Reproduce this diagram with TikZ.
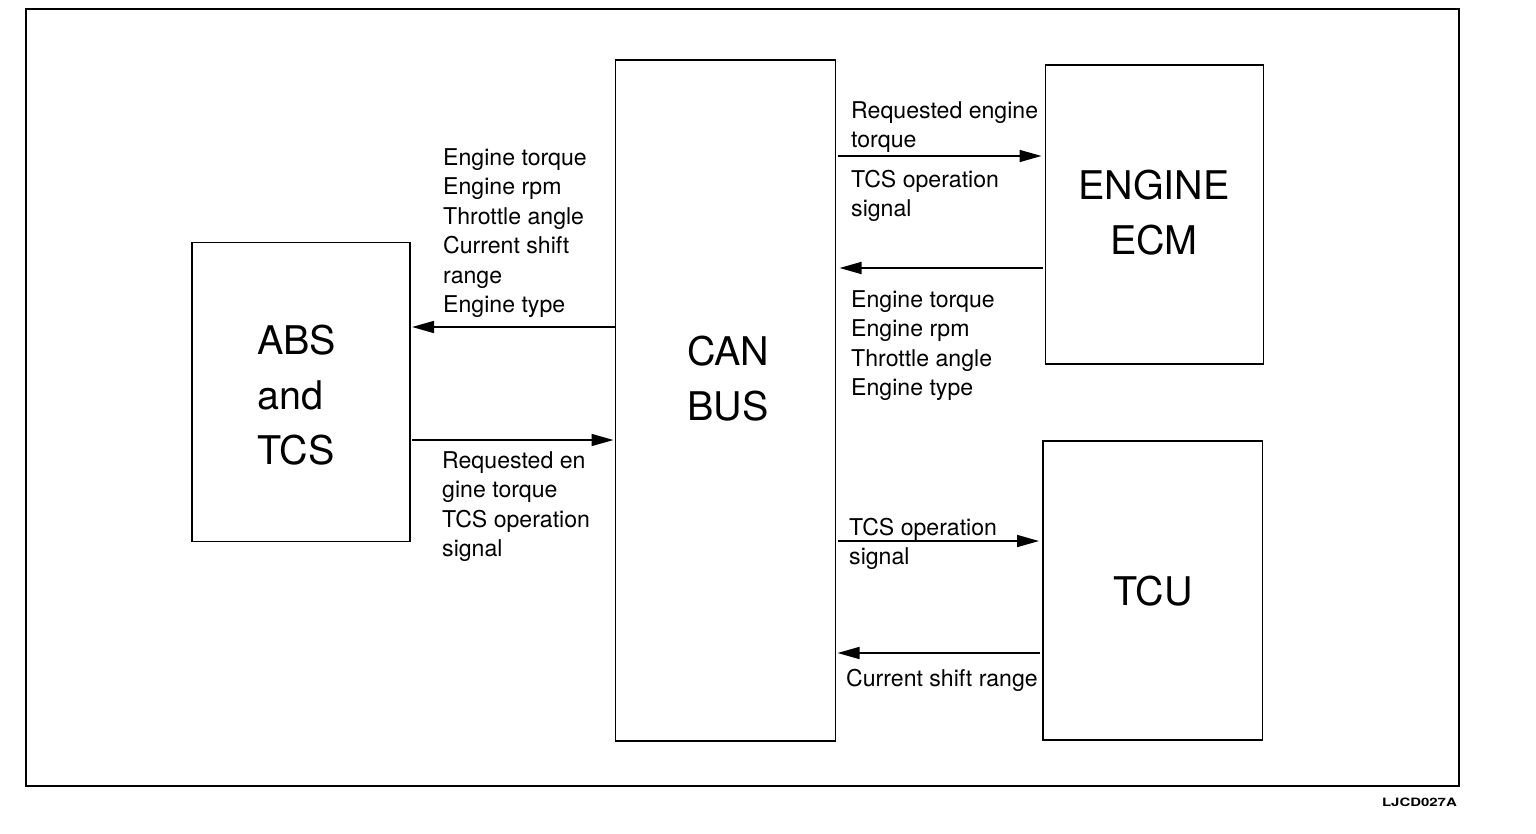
\documentclass[tikz,border=0pt]{standalone}
\usepackage{fontspec}
\setmainfont{TeX Gyre Heros}
\usetikzlibrary{arrows.meta}
\begin{document}
\begin{tikzpicture}[x=1pt,y=-1pt,
  unitbox/.style={draw, line width=1.8pt, rectangle, inner sep=0pt, outer sep=0pt, anchor=north west},
  title/.style={font=\fontsize{39.5}{55}\selectfont, inner sep=0pt},
  sigtext/.style={font=\fontsize{23.1}{29.5}\selectfont, align=left, anchor=north west, inner sep=0pt},
  sig/.style={line width=1.7pt, -{Triangle[length=22pt,width=12pt]}}]
\useasboundingbox (0,0) rectangle (1536,834);
\draw[line width=2pt] (26,9.5) rectangle (1459,786);

% boxes
\node[unitbox, minimum width=218pt, minimum height=299pt] (abs) at (192,242.5) {};
\node[unitbox, minimum width=220pt, minimum height=681pt] (can) at (615.5,60) {};
\node[unitbox, minimum width=218pt, minimum height=299pt] (ecm) at (1045.5,65) {};
\node[unitbox, minimum width=219.5pt, minimum height=299pt] (tcu) at (1043,441) {};

% titles
\node[title, align=left, anchor=west] (abst) at (257,395) {ABS\\and\\TCS};
\node[title, align=left, anchor=west] (cant) at (687,379) {CAN\\BUS};
\node[title, align=center] (ecmt) at (1154,212.5) {ENGINE\\ECM};
\node[title] (tcut) at (1153,591) {TCU};

% arrows
\draw[sig, shorten >=2pt] (can.west |- 0,327) -- (abs.east |- 0,327);
\draw[sig, shorten >=2pt, shorten <=2pt] (abs.east |- 0,440) -- (can.west |- 0,440);
\draw[sig, shorten >=4pt, shorten <=2pt] (can.east |- 0,156) -- (ecm.west |- 0,156);
\draw[sig, shorten >=4pt, shorten <=3pt] (ecm.west |- 0,268) -- (can.east |- 0,268);
\draw[sig, shorten >=4pt, shorten <=2pt] (can.east |- 0,541) -- (tcu.west |- 0,541);
\draw[sig, shorten >=2pt, shorten <=3pt] (tcu.west |- 0,653) -- (can.east |- 0,653);

% signal labels
\node[sigtext] (lt) at (443,148) {Engine torque\\Engine rpm\\Throttle angle\\Current shift\\range\\Engine type};
\node[sigtext] (lb) at (442,451) {Requested en\\gine torque\\TCS operation\\signal};
\node[sigtext] (rt1) at (851,101) {Requested engine\\torque};
\node[sigtext] (rt2) at (851,170) {TCS operation\\signal};
\node[sigtext] (rm) at (851,290) {Engine torque\\Engine rpm\\Throttle angle\\Engine type};
\node[sigtext] (tt) at (849,518) {TCS operation\\signal};
\node[sigtext] (tb) at (846,669) {Current shift range};

\node[anchor=east, inner sep=0pt, font=\fontsize{11.5}{13}\selectfont\bfseries] (code) at (1457,802) {\scalebox{1.3}[1]{LJCD027A}};
\end{tikzpicture}
\end{document}
